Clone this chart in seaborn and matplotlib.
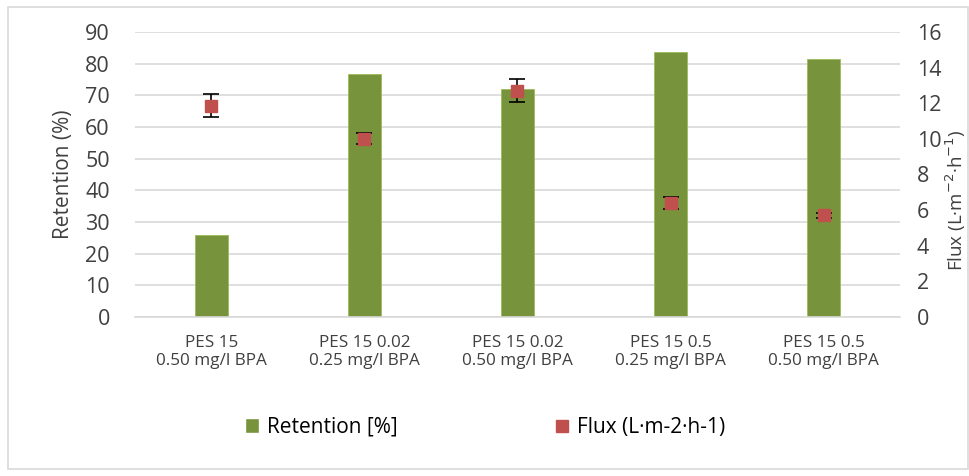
import numpy as np
import pandas as pd
import matplotlib.pyplot as plt
import seaborn as sns
from matplotlib.patches import Patch
from matplotlib.lines import Line2D

# values
samples = ['PES 15\n0.50 mg/l BPA', 'PES 15 0.02\n0.25 mg/l BPA', 'PES 15 0.02\n0.50 mg/l BPA',
           'PES 15 0.5\n0.25 mg/l BPA', 'PES 15 0.5\n0.50 mg/l BPA']
retention = [25.8, 76.6, 72.0, 83.6, 81.4]
flux = [11.85, 10.0, 12.7, 6.4, 5.7]
flux_err = [0.65, 0.3, 0.65, 0.35, 0.12]

df = pd.DataFrame({'Sample': samples, 'Retention': retention, 'Flux': flux, 'Err': flux_err})

sns.set_style('white')
plt.rcParams['font.family'] = ['Open Sans', 'DejaVu Sans']

green = '#77933c'
red = '#c0504d'
txt = '#404040'

fig = plt.figure(figsize=(9.7, 4.76), dpi=100)
ax = fig.add_axes([0.139, 0.334, 0.789, 0.599])

sns.barplot(data=df, x='Sample', y='Retention', color=green, width=0.22,
            saturation=1, edgecolor='#9bbb59', linewidth=0.6, ax=ax, zorder=2)
ax.set_xlim(-0.5, len(samples) - 0.5)
ax.set_ylim(0, 90)
ax.set_yticks(np.arange(0, 91, 10))
ax.yaxis.grid(True, color='#d9d9d9', linewidth=1.2, zorder=0)
ax.set_axisbelow(True)
ax.set_xlabel('')
ax.set_ylabel('Retention (%)', fontsize=15, color=txt)
ax.yaxis.set_label_coords(-0.079, 0.5)
ax.tick_params(axis='y', labelsize=15.5, labelcolor=txt, length=0, pad=18)
ax.tick_params(axis='x', labelsize=12.3, labelcolor=txt, length=0, pad=13)
for s in ['top', 'left', 'right']:
    ax.spines[s].set_visible(False)
ax.spines['bottom'].set_color('#d9d9d9')
ax.spines['bottom'].set_linewidth(1.2)

ax2 = ax.twinx()
ax2.errorbar(np.arange(len(samples)), df['Flux'], yerr=df['Err'], fmt='s', color=red,
             markersize=9, ecolor='black', elinewidth=1.2, capsize=5.5, capthick=1.2, zorder=3)
ax2.set_xlim(-0.5, len(samples) - 0.5)
ax2.set_ylim(0, 16)
ax2.set_yticks(np.arange(0, 17, 2))
ax2.set_ylabel('Flux (L·m$^{-2}$·h$^{-1}$)', fontsize=13.5, color=txt)
ax2.yaxis.set_label_coords(1.057, 0.41)
ax2.tick_params(axis='y', labelsize=15.5, labelcolor=txt, length=0, pad=12)
for s in ['top', 'left', 'right', 'bottom']:
    ax2.spines[s].set_visible(False)

handles = [Patch(facecolor=green, label='Retention [%]'),
           Line2D([], [], marker='s', linestyle='none', color=red, markersize=9,
                  label='Flux (L·m-2·h-1)')]
fig.legend(handles=handles, loc='center', bbox_to_anchor=(0.5, 0.102), ncol=2,
           frameon=False, fontsize=15, columnspacing=7.5, handlelength=0.7, handletextpad=0.4,
           labelcolor='black')

fig.patches.append(plt.Rectangle((0.008, 0.015), 0.99, 0.97, transform=fig.transFigure,
                                 fill=False, edgecolor='#d9d9d9', linewidth=1.2))

fig.savefig('out.png', dpi=100)
